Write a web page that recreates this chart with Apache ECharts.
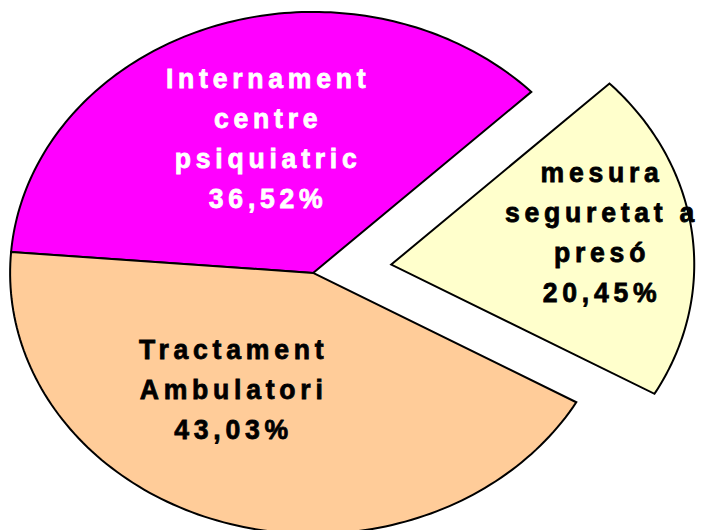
<!DOCTYPE html>
<html>
<head>
<meta charset="utf-8">
<script src="https://cdn.jsdelivr.net/npm/echarts@6/dist/echarts.min.js"></script>
<style>
html, body { margin: 0; padding: 0; background: #fff; }
#main { width: 702px; height: 530px; }
#main text { letter-spacing: 5px; }
</style>
</head>
<body>
<div id="main"></div>
<script>
const categories = ['Internament centre psiquiatric', 'mesura seguretat a presó', 'Tractament Ambulatori'];
const labelLines = ['Internament\ncentre\npsiquiatric', 'mesura\nseguretat a\npresó', 'Tractament\nAmbulatori'];
const shares = [36.52, 20.45, 43.03];

const colors = ['#ff00ff', '#ffffcc', '#ffcc99'];
const textColors = ['#ffffff', '#000000', '#000000'];
const exploded = [0, 0.26, 0];
// label spot: [radius fraction, angle offset from slice middle in degrees]
const labelPlace = [[0.54, -3], [0.7, 3], [0.52, -14]];
const startAngle = 175.4;
const narrow = 0.95;

const total = shares.reduce((a, b) => a + b, 0);
const startAt = [];
let acc = 0;
shares.forEach(v => { startAt.push(acc); acc += v; });

var chart = echarts.init(document.getElementById('main'), null, { renderer: 'svg' });

function renderSlice(params, api) {
    let i = params.dataIndex;
    let w = api.getWidth(), h = api.getHeight();
    // flattened pie: ellipse
    let cx = w * 0.446, cy = h * 0.515, rx = w * 0.4316, ry = h * 0.4925;
    let a0 = startAngle - startAt[i] / total * 360;
    let a1 = a0 - api.value(1) / total * 360;
    let mid = (a0 + a1) / 2 * Math.PI / 180;
    let ox = exploded[i] * rx * Math.cos(mid);
    let oy = -exploded[i] * ry * Math.sin(mid);
    let pts = [[cx + ox, cy + oy]];
    let steps = 120;
    for (let k = 0; k <= steps; k++) {
        let t = (a0 + (a1 - a0) * k / steps) * Math.PI / 180;
        pts.push([cx + ox + rx * Math.cos(t), cy + oy - ry * Math.sin(t)]);
    }
    let la = ((a0 + a1) / 2 + labelPlace[i][1]) * Math.PI / 180;
    let lr = labelPlace[i][0];
    let pct = api.value(1).toFixed(2).replace('.', ',') + '%';
    return {
        type: 'group',
        children: [
            {
                type: 'polygon',
                shape: { points: pts },
                style: { fill: colors[i], stroke: '#000', lineWidth: 2, lineJoin: 'miter' }
            },
            {
                type: 'text',
                x: cx + ox + lr * rx * Math.cos(la) + 2,
                y: cy + oy - lr * ry * Math.sin(la),
                scaleX: narrow,
                style: {
                    text: labelLines[i] + '\n' + pct,
                    fill: textColors[i],
                    stroke: textColors[i],
                    lineWidth: 0.8,
                    fontFamily: '"Liberation Sans", Arial, sans-serif',
                    fontWeight: 'bold',
                    fontSize: 28,
                    lineHeight: 40,
                    align: 'center',
                    verticalAlign: 'middle'
                }
            }
        ]
    };
}

let option = {
    backgroundColor: '#fff',
    animation: false,
    series: [
        {
            type: 'custom',
            coordinateSystem: 'none',
            renderItem: renderSlice,
            data: categories.map((c, i) => ({ name: c, value: [i, shares[i]] }))
        }
    ]
};
chart.setOption(option);
</script>
</body>
</html>
